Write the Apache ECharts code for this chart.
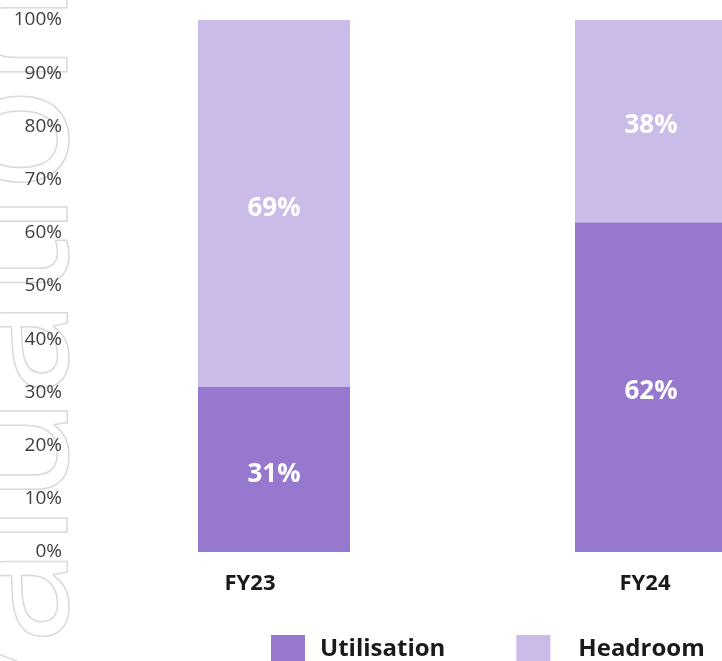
<!DOCTYPE html>
<html>
<head>
<meta charset="utf-8">
<script src="https://cdn.jsdelivr.net/npm/echarts@6/dist/echarts.min.js"></script>
<style>
    html, body { margin: 0; padding: 0; background: #fff; }
    #main { width: 722px; height: 661px; }
</style>
</head>
<body>
<div id="main"></div>
<script>
// 数据
var categories = ['FY23', 'FY24'];
var utilisation = [31, 62];
var headroom = [69, 38];
var seriesNames = ['Utilisation', 'Headroom'];
var labelShift = [48, 12]; // x轴标签右侧留白，使标签略向左
var legendTextPad = [10, 23]; // 图例文字与色块的间距

var myChart = echarts.init(document.getElementById('main'));

var barLabel = {
    show: true,
    position: 'inside',
    offset: [0, 5],
    formatter: '{c}%',
    fontFamily: 'Open Sans',
    fontWeight: 'bold',
    fontSize: 26,
    color: '#ffffff'
};

var legendData = [];
for (var i = 0; i < seriesNames.length; i++) {
    legendData.push({
        name: seriesNames[i],
        textStyle: { padding: [0, 0, 0, legendTextPad[i]] }
    });
}

var option = {
    animation: false,
    backgroundColor: '#ffffff',
    // 水印
    graphic: [{
        type: 'text',
        z: -10,
        x: 17,
        y: 732,
        rotation: Math.PI / 2,
        silent: true,
        style: {
            text: 'valuation',
            font: '175px "Open Sans"',
            verticalAlign: 'middle',
            align: 'left',
            fill: 'rgba(0,0,0,0)',
            stroke: '#d9d9d9',
            lineWidth: 1.5
        }
    }],
    // 类目放在网格两端，柱子中心即 FY23 / FY24 的位置
    grid: {
        left: 274,
        right: 71,
        top: 20,
        bottom: 109
    },
    legend: {
        data: legendData,
        icon: 'rect',
        left: 266,
        top: 630,
        itemWidth: 34,
        itemHeight: 29,
        itemGap: 71,
        textStyle: {
            fontFamily: 'Open Sans',
            fontWeight: 'bold',
            fontSize: 24,
            color: '#1a1a1a'
        }
    },
    xAxis: {
        type: 'category',
        data: categories,
        boundaryGap: false,
        axisLine: { show: false },
        axisTick: { show: false },
        axisLabel: {
            margin: 21,
            formatter: function (value, idx) {
                return '{c' + idx + '|' + value + '}';
            },
            rich: {
                c0: { fontFamily: 'Open Sans', fontWeight: 'bold', fontSize: 22, color: '#1a1a1a', padding: [0, labelShift[0], 0, 0] },
                c1: { fontFamily: 'Open Sans', fontWeight: 'bold', fontSize: 22, color: '#1a1a1a', padding: [0, labelShift[1], 0, 0] }
            }
        }
    },
    yAxis: {
        type: 'value',
        min: 0,
        max: 100,
        interval: 10,
        z: 5,
        axisLine: { show: false },
        axisTick: { show: false },
        splitLine: { show: false },
        axisLabel: {
            formatter: '{value}%',
            margin: 212,
            fontFamily: 'Open Sans',
            fontSize: 19,
            color: '#404040'
        }
    },
    series: [
        {
            name: seriesNames[0],
            type: 'bar',
            stack: 'total',
            barWidth: 152,
            clip: false,
            data: utilisation,
            itemStyle: { color: '#9679CF' },
            label: barLabel
        },
        {
            name: seriesNames[1],
            type: 'bar',
            stack: 'total',
            barWidth: 152,
            clip: false,
            data: headroom,
            itemStyle: { color: '#CBBBE8' },
            label: barLabel
        }
    ]
};

myChart.setOption(option);
</script>
</body>
</html>
